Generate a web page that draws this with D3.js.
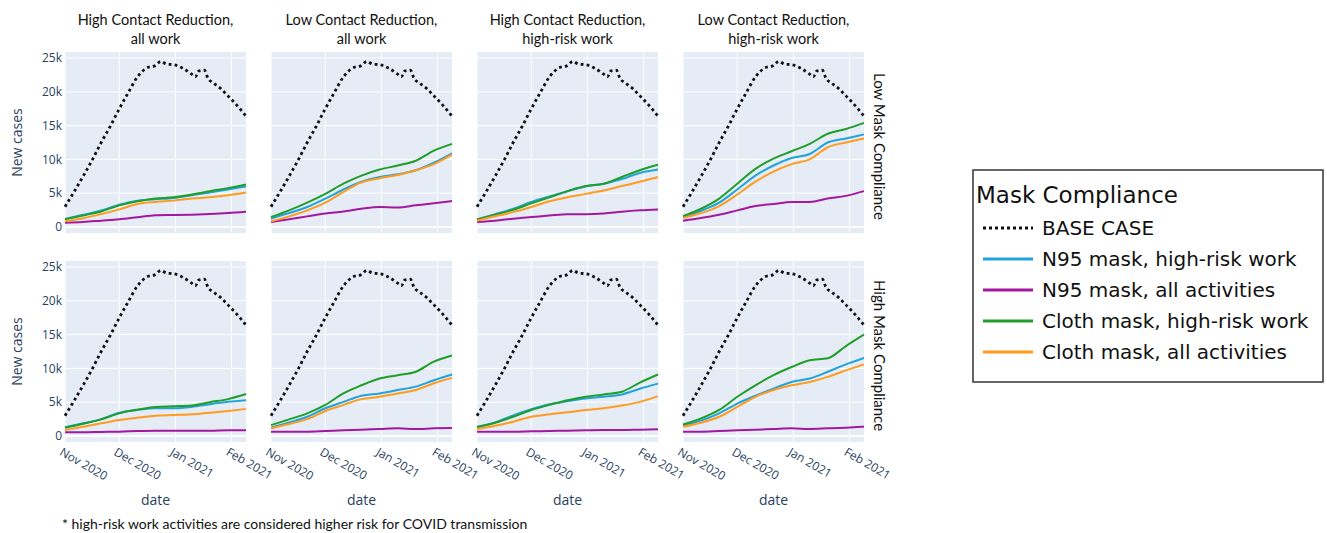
<!DOCTYPE html>
<html>
<head>
<meta charset="utf-8">
<script src="https://cdn.jsdelivr.net/npm/d3@7"></script>
<style>
  body { margin: 0; background: #fff; }
  svg { display: block; }
</style>
</head>
<body>
<svg id="chart" width="1327" height="533"></svg>
<script>
// days are offsets from 1 Nov 2020
var baseDays = [0, 5, 10, 15, 20, 25, 30, 35, 40, 45, 50, 53, 56, 60, 65, 70, 72, 74, 77, 79, 82, 86, 90, 95, 100];
var baseCase = [3000, 5200, 7500, 9900, 12500, 14900, 17500, 19900, 22200, 23500, 23900, 24500, 24100, 24000, 23500, 22600, 22200, 23100, 23200, 22000, 21300, 20500, 19400, 18000, 16400];

var days = [0, 10, 20, 30, 40, 50, 60, 70, 80, 90, 100];

// one entry per panel: low mask row (4 columns), then high mask row (4 columns)
var n95HighRisk = [
  [1200, 1800, 2450, 3300, 3900, 4100, 4300, 4700, 5100, 5550, 6000],
  [1230, 2060, 2950, 4200, 5550, 6700, 7400, 7800, 8400, 9500, 10900],
  [1130, 1900, 2700, 3700, 4500, 5300, 6000, 6400, 7100, 8000, 8500],
  [1500, 2400, 3600, 5550, 7600, 9100, 10200, 10800, 12500, 13100, 13700],
  [1280, 1870, 2500, 3450, 3850, 4100, 4100, 4300, 4700, 5050, 5300],
  [1230, 2000, 2850, 4100, 5050, 5950, 6300, 6800, 7300, 8250, 9100],
  [1330, 2000, 3050, 3950, 4700, 5150, 5550, 5800, 6150, 7000, 7750],
  [1600, 2300, 3350, 4800, 5950, 7000, 8000, 8500, 9500, 10600, 11550]
];
var n95All = [
  [640, 740, 930, 1130, 1430, 1720, 1770, 1820, 1920, 2060, 2260],
  [740, 1130, 1570, 2000, 2300, 2700, 2950, 2900, 3200, 3500, 3850],
  [740, 930, 1230, 1470, 1700, 1900, 1900, 2000, 2260, 2460, 2600],
  [930, 1330, 1800, 2460, 3100, 3400, 3700, 3700, 4200, 4600, 5300],
  [540, 540, 600, 640, 740, 790, 790, 790, 790, 840, 840],
  [640, 640, 640, 740, 840, 930, 1030, 1130, 1030, 1130, 1180],
  [640, 640, 640, 690, 740, 790, 840, 880, 880, 930, 980],
  [640, 640, 740, 840, 930, 1030, 1130, 1030, 1130, 1230, 1380]
];
var clothHighRisk = [
  [1130, 1700, 2300, 3200, 3800, 4200, 4400, 4800, 5300, 5750, 6300],
  [1470, 2460, 3600, 4900, 6400, 7600, 8500, 9100, 9800, 11300, 12300],
  [1130, 1800, 2550, 3500, 4400, 5300, 6050, 6400, 7400, 8400, 9200],
  [1600, 2700, 4200, 6400, 8600, 10100, 11200, 12300, 13800, 14500, 15400],
  [1230, 1800, 2460, 3350, 3900, 4300, 4400, 4500, 5000, 5450, 6200],
  [1600, 2460, 3350, 4600, 6300, 7500, 8500, 9000, 9500, 11000, 11900],
  [1330, 1970, 2850, 3850, 4600, 5300, 5800, 6150, 6550, 7900, 9100],
  [1700, 2600, 3850, 5800, 7500, 9000, 10200, 11200, 11500, 13300, 15000]
];
var clothAll = [
  [850, 1300, 1900, 2600, 3400, 3700, 3900, 4200, 4400, 4700, 5100],
  [840, 1570, 2460, 3600, 5200, 6600, 7200, 7700, 8400, 9300, 10700],
  [930, 1600, 2200, 2950, 3800, 4400, 4900, 5400, 6050, 6700, 7400],
  [1330, 2060, 3100, 4800, 6700, 8200, 9300, 10000, 11800, 12500, 13100],
  [880, 1380, 1870, 2360, 2700, 3000, 3100, 3200, 3450, 3700, 4000],
  [1130, 1770, 2500, 3700, 4600, 5450, 5800, 6300, 6800, 7800, 8600],
  [1030, 1500, 2100, 2850, 3200, 3500, 3850, 4100, 4500, 5050, 5900],
  [1380, 1970, 2850, 4300, 5800, 6800, 7500, 8000, 8750, 9700, 10600]
];

var colTitles = [
  ['High Contact Reduction,', 'all work'],
  ['Low Contact Reduction,', 'all work'],
  ['High Contact Reduction,', 'high-risk work'],
  ['Low Contact Reduction,', 'high-risk work']
];
var rowLabels = ['Low Mask Compliance', 'High Mask Compliance'];
var yTicks = [0, 5000, 10000, 15000, 20000, 25000];
var yTickLabels = ['0', '5k', '10k', '15k', '20k', '25k'];
var xTicks = ['2020-11-01', '2020-12-01', '2021-01-01', '2021-02-01'];
var xTickLabels = ['Nov 2020', 'Dec 2020', 'Jan 2021', 'Feb 2021'];
var legendNames = ['BASE CASE', 'N95 mask, high-risk work', 'N95 mask, all activities', 'Cloth mask, high-risk work', 'Cloth mask, all activities'];
var legendColors = ['#111', '#22a3d9', '#a3189f', '#1f9e2a', '#ff9b1f'];

var svg = d3.select('#chart');
var plotW = 181, plotH = 181;
var colLeft = [65, 271, 477, 683];
var rowTop = [52, 261];
var tickFont = '"Open Sans", sans-serif';
var labelFont = 'Lato, sans-serif';

var start = new Date(2020, 10, 1);
var parse = d3.timeParse('%Y-%m-%d');
var x = d3.scaleTime().domain([start, d3.timeDay.offset(start, 100)]).range([0, plotW]);
var y = d3.scaleLinear().domain([-890, 25890]).range([plotH, 0]);

var line = d3.line()
  .x(function(d) { return x(d.date); })
  .y(function(d) { return y(d.value); })
  .curve(d3.curveMonotoneX);

function toPoints(dayList, values) {
  return values.map(function(v, i) {
    return { date: d3.timeDay.offset(start, dayList[i]), value: v };
  });
}

for (var r = 0; r < 2; r++) {
  for (var c = 0; c < 4; c++) {
    var idx = r * 4 + c;
    var g = svg.append('g')
      .attr('transform', 'translate(' + colLeft[c] + ',' + rowTop[r] + ')');

    g.append('rect')
      .attr('width', plotW)
      .attr('height', plotH)
      .attr('fill', '#e5ecf6');

    g.selectAll('.hgrid')
      .data(yTicks)
      .enter().append('line')
      .attr('x1', 0).attr('x2', plotW)
      .attr('y1', function(d) { return y(d); })
      .attr('y2', function(d) { return y(d); })
      .attr('stroke', '#fff')
      .attr('stroke-width', function(d) { return d === 0 ? 2 : 1; });

    g.selectAll('.vgrid')
      .data(xTicks)
      .enter().append('line')
      .attr('x1', function(d) { return x(parse(d)); })
      .attr('x2', function(d) { return x(parse(d)); })
      .attr('y1', 0).attr('y2', plotH)
      .attr('stroke', '#fff')
      .attr('stroke-width', 1);

    var series = [
      toPoints(baseDays, baseCase),
      toPoints(days, n95HighRisk[idx]),
      toPoints(days, n95All[idx]),
      toPoints(days, clothHighRisk[idx]),
      toPoints(days, clothAll[idx])
    ];
    series.forEach(function(s, i) {
      g.append('path')
        .attr('d', line(s))
        .attr('fill', 'none')
        .attr('stroke', legendColors[i])
        .attr('stroke-width', i === 0 ? 2.8 : 2)
        .attr('stroke-dasharray', i === 0 ? '2.8,3.2' : null);
    });

    if (c === 0) {
      g.selectAll('.ylab')
        .data(yTicks)
        .enter().append('text')
        .attr('x', -3)
        .attr('y', function(d) { return y(d); })
        .attr('dy', '0.35em')
        .attr('text-anchor', 'end')
        .attr('font-family', tickFont)
        .attr('font-size', 12)
        .attr('fill', '#2a3f5f')
        .text(function(d, i) { return yTickLabels[i]; });

      g.append('text')
        .attr('transform', 'translate(-43,' + plotH / 2 + ') rotate(-90)')
        .attr('text-anchor', 'middle')
        .attr('font-family', tickFont)
        .attr('font-size', 14)
        .attr('fill', '#2a3f5f')
        .text('New cases');
    }

    if (r === 1) {
      g.selectAll('.xlab')
        .data(xTicks)
        .enter().append('text')
        .attr('transform', function(d) {
          return 'translate(' + (x(parse(d)) - 2) + ',' + (plotH + 5) + ') rotate(30)';
        })
        .attr('dy', '0.71em')
        .attr('font-family', tickFont)
        .attr('font-size', 12)
        .attr('fill', '#2a3f5f')
        .text(function(d, i) { return xTickLabels[i]; });

      g.append('text')
        .attr('x', plotW / 2)
        .attr('y', plotH + 63)
        .attr('text-anchor', 'middle')
        .attr('font-family', tickFont)
        .attr('font-size', 14)
        .attr('fill', '#2a3f5f')
        .text('date');
    } else {
      g.selectAll('.title')
        .data(colTitles[c])
        .enter().append('text')
        .attr('x', plotW / 2)
        .attr('y', function(d, i) { return -27 + i * 19; })
        .attr('text-anchor', 'middle')
        .attr('font-family', labelFont)
        .attr('font-size', 14.5)
        .attr('fill', '#111')
        .text(function(d) { return d; });
    }

    if (c === 3) {
      g.append('text')
        .attr('transform', 'translate(' + (plotW + 10) + ',' + (plotH / 2 + 4) + ') rotate(90)')
        .attr('text-anchor', 'middle')
        .attr('font-family', labelFont)
        .attr('font-size', 15)
        .attr('fill', '#111')
        .text(rowLabels[r]);
    }
  }
}

// legend
var legend = svg.append('g').attr('transform', 'translate(973,170)');
legend.append('rect')
  .attr('width', 350)
  .attr('height', 212)
  .attr('fill', '#fff')
  .attr('stroke', '#333')
  .attr('stroke-width', 1.5);
legend.append('text')
  .attr('x', 3)
  .attr('y', 25)
  .attr('dy', '0.35em')
  .attr('font-family', '"DejaVu Sans", sans-serif')
  .attr('font-size', 23)
  .attr('fill', '#111')
  .text('Mask Compliance');
var items = legend.selectAll('.item')
  .data(legendNames)
  .enter().append('g')
  .attr('transform', function(d, i) { return 'translate(0,' + (58 + i * 31) + ')'; });
items.append('line')
  .attr('x1', 10).attr('x2', 60)
  .attr('stroke', function(d, i) { return legendColors[i]; })
  .attr('stroke-width', 3)
  .attr('stroke-dasharray', function(d, i) { return i === 0 ? '3,3' : null; });
items.append('text')
  .attr('x', 69)
  .attr('dy', '0.35em')
  .attr('font-family', '"DejaVu Sans", sans-serif')
  .attr('font-size', 20)
  .attr('fill', '#111')
  .text(function(d) { return d; });

svg.append('text')
  .attr('x', 62)
  .attr('y', 529)
  .attr('font-family', labelFont)
  .attr('font-size', 14)
  .attr('fill', '#111')
  .text('* high-risk work activities are considered higher risk for COVID transmission');
</script>
</body>
</html>
